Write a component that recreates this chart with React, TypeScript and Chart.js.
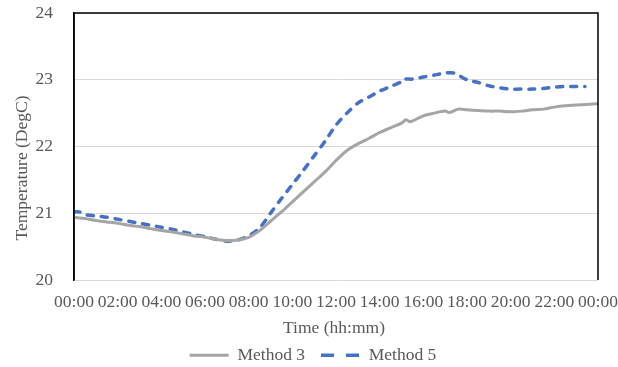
import React, { useEffect, useRef } from "react";
import { Chart, registerables } from "chart.js";

Chart.register(...registerables);

const seriesNames = ["Method 3", "Method 5"];
const xTitle = "Time (hh:mm)";
const yTitle = "Temperature (DegC)";

const hours3 = [0, 0.5, 1, 1.5, 2, 2.5, 3, 3.5, 4, 4.5, 5, 5.5, 6, 6.5, 7, 7.5, 8, 8.5, 9, 9.5, 10, 10.5, 11, 11.5, 12, 12.5, 13, 13.5, 14, 14.5, 15, 15.2, 15.4, 16, 16.5, 17, 17.2, 17.6, 18, 18.5, 19, 19.5, 20, 20.5, 21, 21.5, 22, 22.5, 23, 23.5, 24];
const temp3 = [20.94, 20.92, 20.89, 20.87, 20.85, 20.82, 20.8, 20.77, 20.74, 20.72, 20.69, 20.66, 20.64, 20.61, 20.59, 20.6, 20.64, 20.74, 20.88, 21.02, 21.17, 21.32, 21.47, 21.62, 21.79, 21.94, 22.04, 22.12, 22.21, 22.28, 22.35, 22.4, 22.37, 22.46, 22.5, 22.53, 22.51, 22.56, 22.55, 22.54, 22.53, 22.53, 22.52, 22.53, 22.55, 22.56, 22.59, 22.61, 22.62, 22.63, 22.64];

const hours5 = [0, 0.25, 0.5, 1, 1.5, 2, 2.5, 3, 3.5, 4, 4.5, 5, 5.5, 6, 6.5, 7, 7.5, 8, 8.5, 9, 9.5, 10, 10.5, 11, 11.5, 12, 12.5, 13, 13.5, 14, 14.5, 15, 15.1, 15.5, 16, 16.5, 17, 17.4, 18, 18.5, 19, 19.5, 20, 20.5, 21, 21.5, 22, 22.5, 23, 23.4];
const temp5 = [21.02, 21.02, 20.98, 20.96, 20.94, 20.91, 20.88, 20.85, 20.82, 20.79, 20.76, 20.72, 20.68, 20.65, 20.61, 20.58, 20.6, 20.66, 20.78, 21.0, 21.22, 21.43, 21.64, 21.86, 22.08, 22.32, 22.5, 22.65, 22.74, 22.83, 22.9, 22.97, 23.01, 23.01, 23.04, 23.07, 23.1, 23.1, 23.0, 22.96, 22.91, 22.88, 22.86, 22.86, 22.86, 22.87, 22.89, 22.9, 22.9, 22.9];

const yMin = 20;
const yMax = 24;
const xMin = 0;
const xMax = 24;

const FONT = '"Liberation Serif", "Times New Roman", serif';
const TEXT = "#595959";
const FS = 17.5;

export default function App() {
  const ref = useRef<HTMLCanvasElement | null>(null);

  useEffect(() => {
    if (!ref.current) return;

    const framePlugin = {
      id: "frameAndTitles",
      afterLayout(chart: any) {
        const lg = chart.legend;
        if (lg) {
          lg.top += 7;
          lg.bottom += 7;
          lg.left += 14;
          lg.right += 14;
        }
      },
      afterDatasetsDraw(chart: any) {
        const { ctx, chartArea } = chart;
        ctx.save();
        ctx.strokeStyle = "#000";
        ctx.lineWidth = 1.5;
        ctx.beginPath();
        ctx.moveTo(chartArea.left, chartArea.bottom);
        ctx.lineTo(chartArea.left, chartArea.top);
        ctx.lineTo(chartArea.right, chartArea.top);
        ctx.lineTo(chartArea.right, chartArea.bottom);
        ctx.stroke();
        ctx.restore();
      },
      afterDraw(chart: any) {
        const { ctx, chartArea } = chart;
        ctx.save();
        ctx.font = `${FS}px ${FONT}`;
        ctx.fillStyle = TEXT;
        ctx.textAlign = "center";
        ctx.textBaseline = "middle";
        ctx.fillText(xTitle, (chartArea.left + chartArea.right) / 2 - 2, 328);
        ctx.translate(22, 168);
        ctx.rotate(-Math.PI / 2);
        ctx.fillText(yTitle, 0, 0);
        ctx.restore();
      },
    };

    const chart = new Chart(ref.current, {
      type: "line",
      data: {
        datasets: [
          {
            label: seriesNames[0],
            data: hours3.map((h, i) => ({ x: h, y: temp3[i] })),
            borderColor: "#A5A5A5",
            backgroundColor: "#A5A5A5",
            borderWidth: 3,
            pointRadius: 0,
            tension: 0.3,
          },
          {
            label: seriesNames[1],
            data: hours5.map((h, i) => ({ x: h, y: temp5[i] })),
            borderColor: "#4472C4",
            backgroundColor: "#4472C4",
            borderWidth: 3.5,
            borderDash: [6, 8],
            borderCapStyle: "round",
            pointRadius: 0,
            tension: 0.3,
          },
        ],
      },
      options: {
        responsive: false,
        animation: false,
        devicePixelRatio: 1,
        layout: { padding: { left: 0, right: 20, top: 13, bottom: 0 } },
        plugins: {
          tooltip: { enabled: false },
          legend: {
            position: "bottom",
            labels: {
              usePointStyle: true,
              pointStyleWidth: 39,
              padding: 16,
              color: TEXT,
              font: { family: FONT, size: FS },
              generateLabels(chart: any) {
                const items = Chart.defaults.plugins.legend.labels.generateLabels(chart);
                return items.map((it: any, i: number) => ({
                  ...it,
                  pointStyle: "line",
                  lineCap: "butt",
                  lineDash: i === 1 ? [13, 12] : [],
                }));
              },
            },
          },
        },
        scales: {
          x: {
            type: "linear",
            min: xMin,
            max: xMax,
            grid: { display: false, drawTicks: false },
            border: { display: false },
            ticks: {
              stepSize: 2,
              autoSkip: false,
              maxRotation: 0,
              minRotation: 0,
              padding: 12,
              color: TEXT,
              font: { family: FONT, size: FS },
              callback: (v: any) => String(Number(v) % 24).padStart(2, "0") + ":00",
            },
            afterFit(scale: any) {
              const lh = scale.chart.legend ? scale.chart.legend.height : 0;
              scale.height = 367 - lh - 280;
              scale.paddingRight = 20;
              scale.paddingLeft = 20;
            },
          },
          y: {
            min: yMin,
            max: yMax,
            grid: { color: "#D9D9D9", lineWidth: 1, drawTicks: false },
            border: { display: true, color: "#000", width: 1.5 },
            ticks: {
              stepSize: 1,
              padding: 21,
              color: TEXT,
              font: { family: FONT, size: FS },
            },
            afterFit(scale: any) {
              scale.width = 74;
              scale.paddingTop = 10;
              scale.paddingBottom = 10;
            },
          },
        },
      },
      plugins: [framePlugin],
    } as any);

    return () => chart.destroy();
  }, []);

  return (
    <div style={{ position: "absolute", left: 0, top: 0, width: 618, height: 367, background: "#fff" }}>
      <canvas ref={ref} width={618} height={367} style={{ display: "block" }} />
    </div>
  );
}
